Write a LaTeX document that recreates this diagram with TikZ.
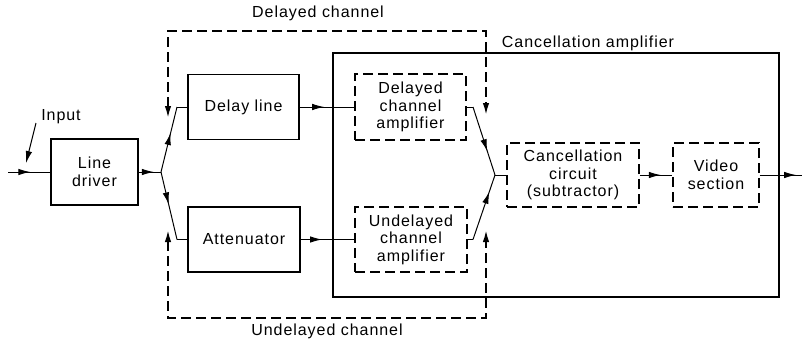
\documentclass[tikz,border=0pt]{standalone}
\usepackage{fontspec}
\setmainfont{Liberation Sans}[LetterSpace=6]
\usetikzlibrary{arrows.meta,decorations.markings}
\begin{document}
\begin{tikzpicture}[x=1pt,y=-1pt,
  txt/.style={font=\fontsize{16}{17.5}\selectfont, align=center, inner sep=0pt},
  solidbox/.style={draw, line width=1.6pt, inner sep=0pt, font=\fontsize{16}{17.5}\selectfont, align=center},
  dashbox/.style={draw, line width=1.8pt, dash pattern=on 10pt off 5pt, inner sep=0pt, font=\fontsize{16}{17.5}\selectfont, align=center},
  dashline/.style={line width=1.8pt, dash pattern=on 10pt off 5pt},
  conn/.style={line width=1pt},
  midarrow/.style={postaction={decorate}, decoration={markings, mark=at position #1 with {\arrow{Latex[length=12pt,width=6.5pt]}}}}
]
\useasboundingbox (0,0) rectangle (802,341);

% boxes
\node[solidbox, minimum width=87pt, minimum height=66pt] (ld) at (94.5,172) {Line\\driver};
\node[solidbox, minimum width=111pt, minimum height=65pt] (dl) at (243.5,107) {Delay line};
\node[solidbox, minimum width=112pt, minimum height=65pt] (att) at (244,239.5) {Attenuator};
\node[dashbox, minimum width=111pt, minimum height=66pt] (dca) at (410.5,107) {Delayed\\channel\\amplifier};
\node[dashbox, minimum width=112pt, minimum height=65pt] (uca) at (411,239.5) {Undelayed\\channel\\amplifier};
\node[dashbox, minimum width=132pt, minimum height=64pt] (cc) at (573,175) {Cancellation\\circuit\\(subtractor)};
\node[dashbox, minimum width=86pt, minimum height=64pt] (vs) at (716,175) {Video\\section};

% cancellation amplifier box
\node[draw, line width=1.6pt, inner sep=0pt, minimum width=446pt, minimum height=244pt] (ca) at (556,175) {};
\node[txt] (calab) at (588,43) {Cancellation amplifier};

% labels
\node[txt] (inlab) at (61,117) {Input};
\node[txt] (dclab) at (318,13) {Delayed channel};
\node[txt] (uclab) at (327,331) {Undelayed channel};

% coordinates
\coordinate (in) at (8,172);
\coordinate (B1) at (161,172);
\coordinate (T1) at (177,107);
\coordinate (T2) at (177,239.5);
\coordinate (M1) at (473,107);
\coordinate (M2) at (473,239.5);
\coordinate (M) at (495,175);
\coordinate (out) at (802,175);
\coordinate (ia) at (36,123);
\coordinate (ib) at (26,163);

% connectors
\draw[conn, midarrow=0.53] (in) -- (ld.west);
\draw[conn, midarrow=0.68] (ld.east) -- (B1);
\draw[conn, midarrow=0.6] (B1) -- (T1);
\draw[conn] (T1) -- (dl.west);
\draw[conn, midarrow=0.48] (B1) -- (T2);
\draw[conn] (T2) -- (att.west);
\draw[conn, midarrow=0.45] (dl.east) -- (dca.west);
\draw[conn, midarrow=0.4] (att.east) -- (uca.west);
\draw[conn] (dca.east) -- (M1);
\draw[conn] (uca.east) -- (M2);
\draw[conn, midarrow=0.65] (M1) -- (M);
\draw[conn, midarrow=0.74] (M2) -- (M);
\draw[conn] (M) -- (cc.west);
\draw[conn, midarrow=0.65] (cc.east) -- (vs.west);
\draw[conn, midarrow=0.86] (vs.east) -- (out);
\draw[conn, -{Latex[length=12pt,width=6.5pt]}] (ia) -- (ib);

% channel brackets
\coordinate (d1) at (168,118);
\coordinate (d2) at (168,31);
\coordinate (d3) at (486,31);
\coordinate (d4) at (486,115);
\coordinate (u1) at (168,230);
\coordinate (u2) at (168,318);
\coordinate (u3) at (486,318);
\coordinate (u4) at (486,230);
\draw[dashline, {Latex[length=12pt,width=6.5pt]}-{Latex[length=12pt,width=6.5pt]}] (d1) -- (d2) -- (d3) -- (d4);
\draw[dashline, {Latex[length=12pt,width=6.5pt]}-{Latex[length=12pt,width=6.5pt]}] (u1) -- (u2) -- (u3) -- (u4);
\end{tikzpicture}
\end{document}
